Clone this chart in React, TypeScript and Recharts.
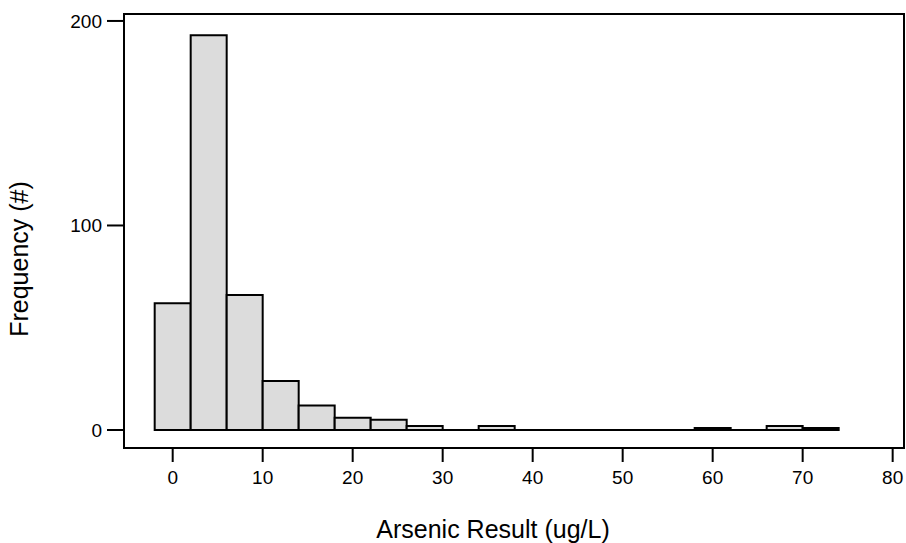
import React from "react";
import {
  ComposedChart,
  Bar,
  XAxis,
  YAxis,
  ReferenceArea,
  ReferenceLine,
  Label,
} from "recharts";

// Histogram bin centers (ug/L), bin width 4
const binCenters = [0, 4, 8, 12, 16, 20, 24, 28, 32, 36, 40, 44, 48, 52, 56, 60, 64, 68, 72];
// Frequency per bin
const frequencies = [62, 193, 66, 24, 12, 6, 5, 2, 0, 2, 0, 0, 0, 0, 0, 1, 0, 2, 1];
const binWidth = 4;

const xTicks = [0, 10, 20, 30, 40, 50, 60, 70, 80];
const yTicks = [0, 100, 200];

const xDomain: [number, number] = [-5.41, 81.26];
const yDomain: [number, number] = [-8.8, 203.4];

const data = binCenters.map((c, i) => ({ x: c, count: frequencies[i] }));
const firstEdge = binCenters[0] - binWidth / 2;
const lastEdge = binCenters[binCenters.length - 1] + binWidth / 2;

const FONT = "'Liberation Sans', Arial, Helvetica, sans-serif";

export default function App() {
  return (
    <div style={{ position: "absolute", left: 0, top: 0, background: "#fff" }}>
      <ComposedChart
        width={906}
        height={543}
        data={data}
        margin={{ top: 14, right: 2, left: 0, bottom: 0 }}
        barCategoryGap={0}
        barGap={0}
      >
        <XAxis
          dataKey="x"
          type="number"
          domain={xDomain}
          ticks={xTicks}
          allowDataOverflow
          height={95}
          tickSize={14}
          tickMargin={9}
          axisLine={{ stroke: "#000", strokeWidth: 2 }}
          tickLine={{ stroke: "#000", strokeWidth: 2 }}
          tick={{ fill: "#000", fontSize: 19, fontFamily: FONT }}
        >
          <Label
            content={() => (
              <text
                x={493}
                y={538}
                textAnchor="middle"
                fontSize={25}
                fontFamily={FONT}
                fill="#000"
              >
                Arsenic Result (ug/L)
              </text>
            )}
          />
        </XAxis>
        <YAxis
          type="number"
          domain={yDomain}
          ticks={yTicks}
          allowDataOverflow
          width={124}
          tickSize={17}
          tickMargin={5}
          axisLine={{ stroke: "#000", strokeWidth: 2 }}
          tickLine={{ stroke: "#000", strokeWidth: 2 }}
          tick={{ fill: "#000", fontSize: 19, fontFamily: FONT }}
        >
          <Label
            content={() => (
              <text
                x={28}
                y={259}
                transform="rotate(-90 28 259)"
                textAnchor="middle"
                fontSize={25}
                fontFamily={FONT}
                fill="#000"
              >
                Frequency (#)
              </text>
            )}
          />
        </YAxis>
        <ReferenceArea
          x1={xDomain[0]}
          x2={xDomain[1]}
          y1={yDomain[0]}
          y2={yDomain[1]}
          fill="none"
          fillOpacity={0}
          stroke="#000"
          strokeWidth={2}
          ifOverflow="visible"
        />
        <Bar
          dataKey="count"
          fill="#dcdcdc"
          stroke="#000"
          strokeWidth={2}
          isAnimationActive={false}
        />
        <ReferenceLine
          segment={[
            { x: firstEdge, y: 0 },
            { x: lastEdge, y: 0 },
          ]}
          stroke="#000"
          strokeWidth={2}
          ifOverflow="visible"
        />
      </ComposedChart>
    </div>
  );
}
